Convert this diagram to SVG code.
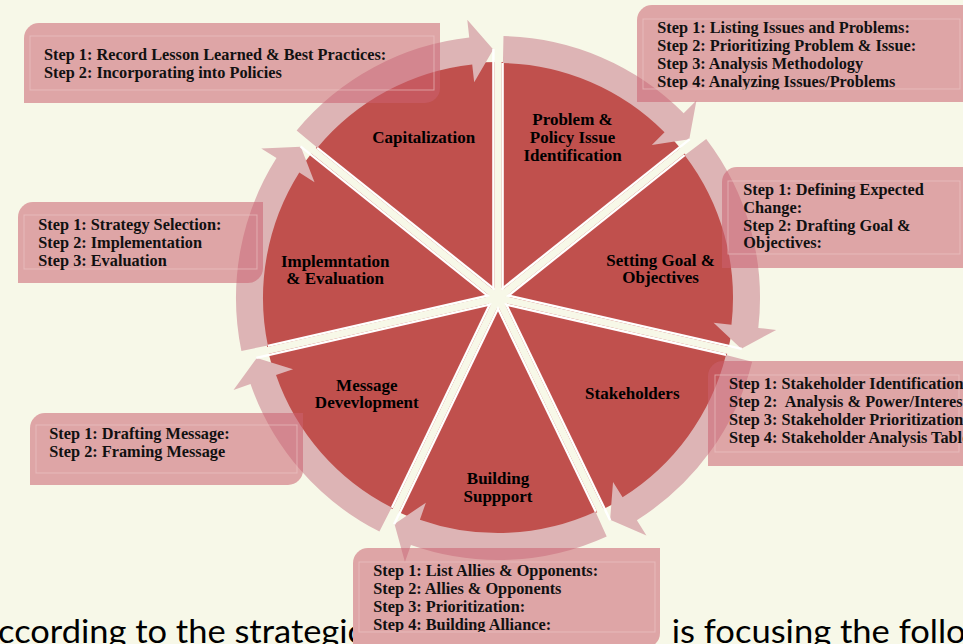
<svg xmlns="http://www.w3.org/2000/svg" width="963" height="644" viewBox="0 0 963 644">
<style>
.slice{fill:#C0504D}
.lbl{font-family:"Liberation Serif","Times New Roman",serif;font-weight:bold;font-size:17px;fill:#000;text-anchor:middle}
.arrow{fill:#DDB4B5}
.sepw{stroke:#FFFFFF;stroke-width:2.4;stroke-linecap:butt}
.sepc{stroke:#F7F8E8;stroke-width:7;stroke-linecap:butt}
.box{fill:rgb(203,97,112);fill-opacity:0.55}
.frame{fill:none;stroke:#EDCACA;stroke-width:1;opacity:0.6}
.bt{font-family:"Liberation Serif","Times New Roman",serif;font-weight:bold;font-size:16.3px;fill:#111}
.big{font-family:Lato,"Open Sans",sans-serif;font-size:32px;fill:#000}
</style>
<defs>
<clipPath id="clipLeft"><rect x="-10" y="560" width="363" height="100"/></clipPath>
<clipPath id="clipB3"><rect x="630" y="0" width="340" height="89.5"/></clipPath>
<clipPath id="clipB7"><rect x="350" y="540" width="320" height="92"/></clipPath>
</defs>
<rect x="0" y="0" width="963" height="644" fill="#F7F8E8"/>

<g id="bottom-text">
<text class="big" x="-2" y="643" textLength="366" lengthAdjust="spacingAndGlyphs" clip-path="url(#clipLeft)">ccording to the strategic</text>
<text class="big" x="671.7" y="643" textLength="294" lengthAdjust="spacingAndGlyphs">is focusing the follo</text>
</g>

<g id="node-problem"><path class="slice" d="M498 298 L498 62 A236 236 0 0 1 682.51 150.86 Z"/>
<text class="lbl" x="572.5" y="125">Problem &amp;</text><text class="lbl" x="572.5" y="142.7">Policy Issue</text><text class="lbl" x="572.5" y="160.5">Identification</text></g>
<g id="node-goal"><path class="slice" d="M498 298 L682.51 150.86 A236 236 0 0 1 728.08 350.51 Z"/>
<text class="lbl" x="660.6" y="265.7">Setting Goal &amp;</text><text class="lbl" x="660.6" y="283.3">Objectives</text></g>
<g id="node-stakeholders"><path class="slice" d="M498 298 L728.08 350.51 A236 236 0 0 1 600.40 510.63 Z"/>
<text class="lbl" x="632.3" y="399">Stakeholders</text></g>
<g id="node-building"><path class="slice" d="M498 298 L600.40 510.63 A236 236 0 0 1 395.60 510.63 Z"/>
<text class="lbl" x="498" y="484">Building</text><text class="lbl" x="498" y="501.7">Suppport</text></g>
<g id="node-message"><path class="slice" d="M498 298 L395.60 510.63 A236 236 0 0 1 267.92 350.51 Z"/>
<text class="lbl" x="366.8" y="390.7">Message</text><text class="lbl" x="366.8" y="408.3">Devevlopment</text></g>
<g id="node-implementation"><path class="slice" d="M498 298 L267.92 350.51 A236 236 0 0 1 313.49 150.86 Z"/>
<text class="lbl" x="335.2" y="266.7">Implemntation</text><text class="lbl" x="335.2" y="284">&amp; Evaluation</text></g>
<g id="node-capitalization"><path class="slice" d="M498 298 L313.49 150.86 A236 236 0 0 1 498 62 Z"/>
<text class="lbl" x="423.7" y="142.7">Capitalization</text></g>

<g id="connectors">
<path class="arrow" d="M503.49 36.06 A262 262 0 0 1 683.68 113.16 L696.44 100.46 L689.28 139.36 L651.79 144.90 L664.54 132.20 A235 235 0 0 0 502.92 63.05 Z"/>
<path class="arrow" d="M706.22 138.97 A262 262 0 0 1 758.29 327.92 L776.17 329.97 L741.29 348.63 L713.58 322.78 L731.46 324.83 A235 235 0 0 0 684.76 155.36 Z"/>
<path class="arrow" d="M752.15 361.64 A262 262 0 0 1 636.89 520.15 L646.44 535.42 L610.10 519.78 L613.04 482.00 L622.58 497.26 A235 235 0 0 0 725.96 355.08 Z"/>
<path class="arrow" d="M606.71 536.38 A262 262 0 0 1 410.91 545.10 L404.93 562.08 L394.50 523.92 L425.87 502.66 L419.89 519.64 A235 235 0 0 0 595.51 511.82 Z"/>
<path class="arrow" d="M379.40 531.62 A262 262 0 0 1 250.51 383.98 L233.51 389.88 L256.84 357.94 L293.02 369.21 L276.01 375.12 A235 235 0 0 0 391.63 507.55 Z"/>
<path class="arrow" d="M241.40 350.94 A262 262 0 0 1 276.47 158.11 L261.25 148.50 L300.78 146.82 L314.52 182.14 L299.30 172.53 A235 235 0 0 0 267.85 345.48 Z"/>
<path class="arrow" d="M296.63 130.39 A262 262 0 0 1 469.25 37.58 L467.27 19.69 L493.23 49.55 L474.19 82.31 L472.21 64.42 A235 235 0 0 0 317.38 147.67 Z"/>
</g>

<g id="separators">
<line class="sepw" x1="493.4" y1="296" x2="493.4" y2="49"/>
<line class="sepw" x1="502.6" y1="296" x2="502.6" y2="63"/>
<line class="sepw" x1="496.70" y1="293.16" x2="689.81" y2="139.15"/>
<line class="sepw" x1="502.43" y1="300.35" x2="684.60" y2="155.08"/>
<line class="sepw" x1="500.97" y1="293.96" x2="741.78" y2="348.93"/>
<line class="sepw" x1="498.93" y1="302.93" x2="726.09" y2="354.78"/>
<line class="sepw" x1="503.01" y1="297.81" x2="610.19" y2="520.34"/>
<line class="sepw" x1="494.72" y1="301.80" x2="595.82" y2="511.73"/>
<line class="sepw" x1="501.28" y1="301.80" x2="394.11" y2="524.34"/>
<line class="sepw" x1="492.99" y1="297.81" x2="391.90" y2="507.73"/>
<line class="sepw" x1="497.07" y1="302.93" x2="256.26" y2="357.90"/>
<line class="sepw" x1="495.03" y1="293.96" x2="267.87" y2="345.81"/>
<line class="sepw" x1="493.57" y1="300.35" x2="300.45" y2="146.35"/>
<line class="sepw" x1="499.30" y1="293.16" x2="317.14" y2="147.88"/>
<line class="sepc" x1="498" y1="298" x2="498" y2="60"/>
<line class="sepc" x1="498" y1="298" x2="684.08" y2="149.61"/>
<line class="sepc" x1="498" y1="298" x2="730.03" y2="350.96"/>
<line class="sepc" x1="498" y1="298" x2="601.26" y2="512.43"/>
<line class="sepc" x1="498" y1="298" x2="394.74" y2="512.43"/>
<line class="sepc" x1="498" y1="298" x2="265.97" y2="350.96"/>
<line class="sepc" x1="498" y1="298" x2="311.92" y2="149.61"/>
</g>

<g id="box-capitalization">
<path class="box" d="M24 103 L24 38 A15 15 0 0 1 39 23 L440 23 L440 88 A15 15 0 0 1 425 103 Z"/>
<rect class="frame" x="30" y="36" width="404" height="54"/>
<text class="bt" x="44" y="60">Step 1: Record Lesson Learned &amp; Best Practices:</text>
<text class="bt" x="44" y="77.7">Step 2: Incorporating into Policies</text>
</g>
<g id="box-problem">
<path class="box" d="M637 102 L637 20 A15 15 0 0 1 652 5 L975 5 L975 102 Z"/>
<rect class="frame" x="643" y="19" width="317" height="70"/>
<g clip-path="url(#clipB3)">
<text class="bt" x="657.3" y="33.3">Step 1: Listing Issues and Problems:</text>
<text class="bt" x="657.3" y="51">Step 2: Prioritizing Problem &amp; Issue:</text>
<text class="bt" x="657.3" y="69">Step 3: Analysis Methodology</text>
<text class="bt" x="657.3" y="87.3">Step 4: Analyzing Issues/Problems</text>
</g>
</g>
<g id="box-goal">
<path class="box" d="M722 268 L722 182 A15 15 0 0 1 737 167 L975 167 L975 268 Z"/>
<rect class="frame" x="728" y="181" width="232" height="73"/>
<text class="bt" x="743.3" y="195">Step 1: Defining Expected</text>
<text class="bt" x="743.3" y="212.7">Change:</text>
<text class="bt" x="743.3" y="230.7">Step 2: Drafting Goal &amp;</text>
<text class="bt" x="743.3" y="248.3">Objectives:</text>
</g>
<g id="box-stakeholders">
<path class="box" d="M708 466 L708 376 A15 15 0 0 1 723 361 L975 361 L975 466 Z"/>
<rect class="frame" x="715" y="375" width="244" height="77"/>
<text class="bt" x="729" y="389.3">Step 1: Stakeholder Identification</text>
<text class="bt" x="729" y="407.3" xml:space="preserve">Step 2:  Analysis &amp; Power/Interest</text>
<text class="bt" x="729" y="425.3">Step 3: Stakeholder Prioritization</text>
<text class="bt" x="729" y="443.3">Step 4: Stakeholder Analysis Table</text>
</g>
<g id="box-building">
<path class="box" d="M353 648 L353 563 A15 15 0 0 1 368 548 L660 548 L660 633 A15 15 0 0 1 645 648 Z"/>
<rect class="frame" x="359" y="562" width="296" height="70"/>
<g clip-path="url(#clipB7)">
<text class="bt" x="373.3" y="576">Step 1: List Allies &amp; Opponents:</text>
<text class="bt" x="373.3" y="594">Step 2: Allies &amp; Opponents</text>
<text class="bt" x="373.3" y="612">Step 3: Prioritization:</text>
<text class="bt" x="373.3" y="630">Step 4: Building Alliance:</text>
</g>
</g>
<g id="box-message">
<path class="box" d="M30 485 L30 428 A15 15 0 0 1 45 413 L303 413 L303 470 A15 15 0 0 1 288 485 Z"/>
<rect class="frame" x="36" y="425" width="261" height="48"/>
<text class="bt" x="49.3" y="439.3">Step 1: Drafting Message:</text>
<text class="bt" x="49.3" y="457.3">Step 2: Framing Message</text>
</g>
<g id="box-implementation">
<path class="box" d="M18 283 L18 217 A15 15 0 0 1 33 202 L263 202 L263 268 A15 15 0 0 1 248 283 Z"/>
<rect class="frame" x="24" y="215" width="233" height="54"/>
<text class="bt" x="38.3" y="230">Step 1: Strategy Selection:</text>
<text class="bt" x="38.3" y="247.7">Step 2: Implementation</text>
<text class="bt" x="38.3" y="265.7">Step 3: Evaluation</text>
</g>
</svg>
